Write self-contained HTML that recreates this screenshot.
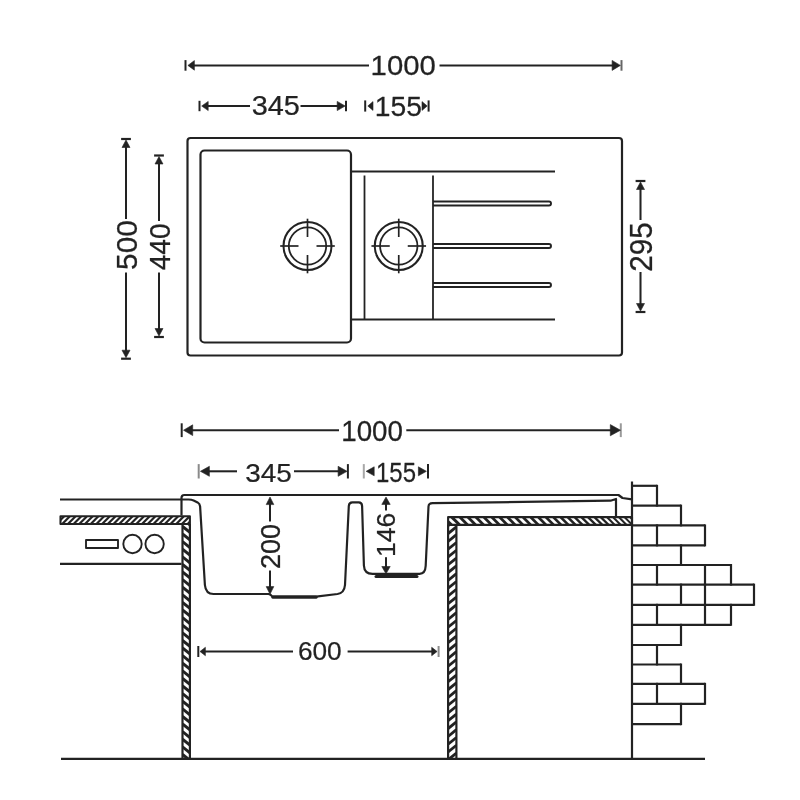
<!DOCTYPE html>
<html><head><meta charset="utf-8"><title>Sink dimensions</title>
<style>
html,body{margin:0;padding:0;background:#fff;}
body{width:800px;height:800px;overflow:hidden;font-family:"Liberation Sans",sans-serif;}
svg{display:block}
svg text{font-family:"Liberation Sans",sans-serif;}
</style></head>
<body>
<svg width="800" height="800" viewBox="0 0 800 800" fill="none" stroke="#242424" stroke-linecap="butt" stroke-linejoin="round">
<defs><filter id="soft" x="0" y="0" width="800" height="800" filterUnits="userSpaceOnUse"><feGaussianBlur stdDeviation="0.5"/></filter></defs>
<g filter="url(#soft)">
<rect x="0" y="0" width="800" height="800" fill="#ffffff" stroke="none"/>
<rect x="187.5" y="138" width="434.5" height="217.5" rx="3" stroke-width="2.2"/>
<rect x="200.5" y="150.5" width="150.5" height="192" rx="4" stroke-width="2.2"/>
<line x1="351" y1="171.5" x2="555" y2="171.5" stroke-width="1.8" />
<line x1="351" y1="319.5" x2="555" y2="319.5" stroke-width="1.8" />
<line x1="364.5" y1="175.5" x2="364.5" y2="319" stroke-width="1.8" />
<line x1="433" y1="175.5" x2="433" y2="319" stroke-width="1.8" />
<path d="M433,201.4 H549 a2.0,2.0 0 0 1 0,4.0 H433" stroke-width="1.95" />
<path d="M433,244.0 H549 a2.0,2.0 0 0 1 0,4.0 H433" stroke-width="1.95" />
<path d="M433,283.0 H549 a2.0,2.0 0 0 1 0,4.0 H433" stroke-width="1.95" />
<circle cx="307.5" cy="246" r="24" stroke-width="2.1"/>
<circle cx="307.5" cy="246" r="18.7" stroke-width="1.8"/>
<line x1="316.5" y1="246" x2="334.8" y2="246.0" stroke-width="1.7" />
<line x1="298.5" y1="246" x2="280.2" y2="246.0" stroke-width="1.7" />
<line x1="307.5" y1="255" x2="307.5" y2="273.3" stroke-width="1.7" />
<line x1="307.5" y1="237" x2="307.5" y2="218.7" stroke-width="1.7" />
<circle cx="398.75" cy="246" r="24" stroke-width="2.1"/>
<circle cx="398.75" cy="246" r="18.7" stroke-width="1.8"/>
<line x1="407.75" y1="246" x2="426.05" y2="246.0" stroke-width="1.7" />
<line x1="389.75" y1="246" x2="371.45" y2="246.0" stroke-width="1.7" />
<line x1="398.75" y1="255" x2="398.75" y2="273.3" stroke-width="1.7" />
<line x1="398.75" y1="237" x2="398.75" y2="218.7" stroke-width="1.7" />
<line x1="185.5" y1="60.10000000000001" x2="185.5" y2="70.7" stroke-width="2.0" stroke="#242424"/>
<line x1="621.5" y1="60.10000000000001" x2="621.5" y2="70.7" stroke-width="2.0" stroke="#666666"/>
<polygon points="187.90,65.40 194.40,60.60 194.40,70.20" fill="#242424" stroke="#242424" stroke-width="0.6"/>
<polygon points="620.40,65.40 612.10,70.40 612.10,60.40" fill="#242424" stroke="#242424" stroke-width="0.6"/>
<line x1="193.4" y1="65.4" x2="369" y2="65.4" stroke-width="2.05" />
<line x1="439.5" y1="65.4" x2="613.1" y2="65.4" stroke-width="2.05" />
<text x="0" y="0" font-size="28.0" fill="#242424" stroke="#242424" stroke-width="0.25" transform="translate(370.60 75.42) scale(1.0477 1.0045)">1000</text>
<line x1="199.5" y1="100.8" x2="199.5" y2="111.2" stroke-width="2.0" stroke="#242424"/>
<line x1="346" y1="100.8" x2="346" y2="111.2" stroke-width="2.0" stroke="#242424"/>
<polygon points="201.70,106.00 208.20,101.40 208.20,110.60" fill="#242424" stroke="#242424" stroke-width="0.6"/>
<polygon points="345.20,106.00 337.20,110.60 337.20,101.40" fill="#242424" stroke="#242424" stroke-width="0.6"/>
<line x1="207.2" y1="106" x2="250" y2="106" stroke-width="2.05" />
<line x1="300.5" y1="106" x2="338.2" y2="106" stroke-width="2.05" />
<text x="0" y="0" font-size="28.0" fill="#242424" stroke="#242424" stroke-width="0.25" transform="translate(251.72 115.43) scale(1.0310 0.9793)">345</text>
<line x1="365.2" y1="100.4" x2="365.2" y2="111.6" stroke-width="2.0" stroke="#242424"/>
<line x1="428.6" y1="100.4" x2="428.6" y2="111.6" stroke-width="2.0" stroke="#242424"/>
<polygon points="367.80,106.00 373.00,101.60 373.00,110.40" fill="#242424" stroke="#242424" stroke-width="0.6"/>
<polygon points="427.20,106.00 422.00,110.40 422.00,101.60" fill="#242424" stroke="#242424" stroke-width="0.6"/>
<text x="0" y="0" font-size="28.0" fill="#242424" stroke="#242424" stroke-width="0.25" transform="translate(374.68 115.62) scale(1.0099 1.0138)">155</text>
<line x1="121.1" y1="139" x2="130.9" y2="139" stroke-width="2.2" />
<line x1="121.1" y1="358.7" x2="130.9" y2="358.7" stroke-width="2.2" />
<polygon points="126.00,140.00 130.00,147.50 122.00,147.50" fill="#242424" stroke="#242424" stroke-width="0.6"/>
<polygon points="126.00,357.70 122.00,350.20 130.00,350.20" fill="#242424" stroke="#242424" stroke-width="0.6"/>
<line x1="126" y1="146.5" x2="126" y2="219" stroke-width="2.05" />
<line x1="126" y1="272.5" x2="126" y2="351.2" stroke-width="2.05" />
<text x="0" y="0" font-size="28.0" fill="#242424" stroke="#242424" stroke-width="0.25" transform="translate(136.90 269.89) rotate(-90) scale(1.0647 1.0803)">500</text>
<line x1="154.1" y1="155.5" x2="163.9" y2="155.5" stroke-width="2.2" />
<line x1="154.1" y1="337" x2="163.9" y2="337" stroke-width="2.2" />
<polygon points="159.00,156.50 163.00,164.00 155.00,164.00" fill="#242424" stroke="#242424" stroke-width="0.6"/>
<polygon points="159.00,336.00 155.00,328.50 163.00,328.50" fill="#242424" stroke="#242424" stroke-width="0.6"/>
<line x1="159" y1="163.0" x2="159" y2="221" stroke-width="2.05" />
<line x1="159" y1="272.5" x2="159" y2="329.5" stroke-width="2.05" />
<text x="0" y="0" font-size="28.0" fill="#242424" stroke="#242424" stroke-width="0.25" transform="translate(170.40 270.34) rotate(-90) scale(1.0087 1.0803)">440</text>
<line x1="635.6" y1="181" x2="645.4" y2="181" stroke-width="2.2" />
<line x1="635.6" y1="312" x2="645.4" y2="312" stroke-width="2.2" />
<polygon points="640.50,182.00 644.50,189.50 636.50,189.50" fill="#242424" stroke="#242424" stroke-width="0.6"/>
<polygon points="640.50,311.00 636.50,303.50 644.50,303.50" fill="#242424" stroke="#242424" stroke-width="0.6"/>
<line x1="640.5" y1="188.5" x2="640.5" y2="220" stroke-width="2.05" />
<line x1="640.5" y1="272" x2="640.5" y2="304.5" stroke-width="2.05" />
<text x="0" y="0" font-size="28.0" fill="#242424" stroke="#242424" stroke-width="0.25" transform="translate(651.79 271.69) rotate(-90) scale(1.0618 1.1206)">295</text>
<line x1="60" y1="499.5" x2="181.5" y2="499.5" stroke-width="2.2" />
<line x1="60" y1="563.8" x2="181.5" y2="563.8" stroke-width="2.2" />
<rect x="86" y="540" width="32" height="8" stroke-width="1.9"/>
<circle cx="132.5" cy="544" r="9.2" stroke-width="1.9"/>
<circle cx="154.6" cy="544" r="9.2" stroke-width="1.9"/>
<clipPath id="c1"><rect x="60.5" y="516.3" width="129.4" height="7.7"/></clipPath>
<g clip-path="url(#c1)">
<line x1="45.1" y1="524.0" x2="52.8" y2="516.3" stroke-width="2.2" />
<line x1="50.8" y1="524.0" x2="58.5" y2="516.3" stroke-width="2.2" />
<line x1="56.5" y1="524.0" x2="64.2" y2="516.3" stroke-width="2.2" />
<line x1="62.2" y1="524.0" x2="69.9" y2="516.3" stroke-width="2.2" />
<line x1="67.9" y1="524.0" x2="75.6" y2="516.3" stroke-width="2.2" />
<line x1="73.6" y1="524.0" x2="81.3" y2="516.3" stroke-width="2.2" />
<line x1="79.3" y1="524.0" x2="87.0" y2="516.3" stroke-width="2.2" />
<line x1="85.0" y1="524.0" x2="92.7" y2="516.3" stroke-width="2.2" />
<line x1="90.7" y1="524.0" x2="98.4" y2="516.3" stroke-width="2.2" />
<line x1="96.4" y1="524.0" x2="104.1" y2="516.3" stroke-width="2.2" />
<line x1="102.1" y1="524.0" x2="109.8" y2="516.3" stroke-width="2.2" />
<line x1="107.8" y1="524.0" x2="115.5" y2="516.3" stroke-width="2.2" />
<line x1="113.5" y1="524.0" x2="121.2" y2="516.3" stroke-width="2.2" />
<line x1="119.2" y1="524.0" x2="126.9" y2="516.3" stroke-width="2.2" />
<line x1="124.9" y1="524.0" x2="132.6" y2="516.3" stroke-width="2.2" />
<line x1="130.6" y1="524.0" x2="138.3" y2="516.3" stroke-width="2.2" />
<line x1="136.3" y1="524.0" x2="144.0" y2="516.3" stroke-width="2.2" />
<line x1="142.0" y1="524.0" x2="149.7" y2="516.3" stroke-width="2.2" />
<line x1="147.7" y1="524.0" x2="155.4" y2="516.3" stroke-width="2.2" />
<line x1="153.4" y1="524.0" x2="161.1" y2="516.3" stroke-width="2.2" />
<line x1="159.1" y1="524.0" x2="166.8" y2="516.3" stroke-width="2.2" />
<line x1="164.8" y1="524.0" x2="172.5" y2="516.3" stroke-width="2.2" />
<line x1="170.5" y1="524.0" x2="178.2" y2="516.3" stroke-width="2.2" />
<line x1="176.2" y1="524.0" x2="183.9" y2="516.3" stroke-width="2.2" />
<line x1="181.9" y1="524.0" x2="189.6" y2="516.3" stroke-width="2.2" />
<line x1="187.6" y1="524.0" x2="195.3" y2="516.3" stroke-width="2.2" />
<line x1="193.3" y1="524.0" x2="201.0" y2="516.3" stroke-width="2.2" />
</g>
<rect x="60.5" y="516.3" width="129.4" height="7.7" stroke-width="2.1"/>
<clipPath id="c2"><rect x="182.5" y="524" width="7.4" height="234.8"/></clipPath>
<g clip-path="url(#c2)">
<line x1="182.5" y1="511.2" x2="189.9" y2="517.12" stroke-width="3.0" />
<line x1="182.5" y1="518.8" x2="189.9" y2="524.72" stroke-width="3.0" />
<line x1="182.5" y1="526.4" x2="189.9" y2="532.32" stroke-width="3.0" />
<line x1="182.5" y1="534.0" x2="189.9" y2="539.92" stroke-width="3.0" />
<line x1="182.5" y1="541.6" x2="189.9" y2="547.52" stroke-width="3.0" />
<line x1="182.5" y1="549.2" x2="189.9" y2="555.12" stroke-width="3.0" />
<line x1="182.5" y1="556.8" x2="189.9" y2="562.72" stroke-width="3.0" />
<line x1="182.5" y1="564.4" x2="189.9" y2="570.32" stroke-width="3.0" />
<line x1="182.5" y1="572.0" x2="189.9" y2="577.92" stroke-width="3.0" />
<line x1="182.5" y1="579.6" x2="189.9" y2="585.52" stroke-width="3.0" />
<line x1="182.5" y1="587.2" x2="189.9" y2="593.12" stroke-width="3.0" />
<line x1="182.5" y1="594.8" x2="189.9" y2="600.72" stroke-width="3.0" />
<line x1="182.5" y1="602.4" x2="189.9" y2="608.32" stroke-width="3.0" />
<line x1="182.5" y1="610.0" x2="189.9" y2="615.92" stroke-width="3.0" />
<line x1="182.5" y1="617.6" x2="189.9" y2="623.52" stroke-width="3.0" />
<line x1="182.5" y1="625.2" x2="189.9" y2="631.12" stroke-width="3.0" />
<line x1="182.5" y1="632.8" x2="189.9" y2="638.72" stroke-width="3.0" />
<line x1="182.5" y1="640.4" x2="189.9" y2="646.32" stroke-width="3.0" />
<line x1="182.5" y1="648.0" x2="189.9" y2="653.92" stroke-width="3.0" />
<line x1="182.5" y1="655.6" x2="189.9" y2="661.52" stroke-width="3.0" />
<line x1="182.5" y1="663.2" x2="189.9" y2="669.12" stroke-width="3.0" />
<line x1="182.5" y1="670.8" x2="189.9" y2="676.72" stroke-width="3.0" />
<line x1="182.5" y1="678.4" x2="189.9" y2="684.32" stroke-width="3.0" />
<line x1="182.5" y1="686.0" x2="189.9" y2="691.92" stroke-width="3.0" />
<line x1="182.5" y1="693.6" x2="189.9" y2="699.52" stroke-width="3.0" />
<line x1="182.5" y1="701.2" x2="189.9" y2="707.12" stroke-width="3.0" />
<line x1="182.5" y1="708.8" x2="189.9" y2="714.72" stroke-width="3.0" />
<line x1="182.5" y1="716.4" x2="189.9" y2="722.32" stroke-width="3.0" />
<line x1="182.5" y1="724.0" x2="189.9" y2="729.92" stroke-width="3.0" />
<line x1="182.5" y1="731.6" x2="189.9" y2="737.52" stroke-width="3.0" />
<line x1="182.5" y1="739.2" x2="189.9" y2="745.12" stroke-width="3.0" />
<line x1="182.5" y1="746.8" x2="189.9" y2="752.72" stroke-width="3.0" />
<line x1="182.5" y1="754.4" x2="189.9" y2="760.32" stroke-width="3.0" />
<line x1="182.5" y1="762.0" x2="189.9" y2="767.92" stroke-width="3.0" />
</g>
<line x1="182.5" y1="524" x2="182.5" y2="758.8" stroke-width="2.2" />
<line x1="189.9" y1="524" x2="189.9" y2="758.8" stroke-width="2.2" />
<clipPath id="c3"><rect x="448.1" y="517.1" width="183.9" height="7.8"/></clipPath>
<g clip-path="url(#c3)">
<line x1="435.5" y1="517.1" x2="443.3" y2="524.9" stroke-width="2.94" />
<line x1="443.66" y1="517.1" x2="451.46" y2="524.9" stroke-width="2.92" />
<line x1="451.78" y1="517.1" x2="459.58" y2="524.9" stroke-width="2.91" />
<line x1="459.85" y1="517.1" x2="467.65" y2="524.9" stroke-width="2.89" />
<line x1="467.88" y1="517.1" x2="475.68" y2="524.9" stroke-width="2.88" />
<line x1="475.87" y1="517.1" x2="483.67" y2="524.9" stroke-width="2.86" />
<line x1="483.82" y1="517.1" x2="491.62" y2="524.9" stroke-width="2.84" />
<line x1="491.72" y1="517.1" x2="499.52" y2="524.9" stroke-width="2.83" />
<line x1="499.58" y1="517.1" x2="507.38" y2="524.9" stroke-width="2.81" />
<line x1="507.4" y1="517.1" x2="515.2" y2="524.9" stroke-width="2.8" />
<line x1="515.17" y1="517.1" x2="522.97" y2="524.9" stroke-width="2.78" />
<line x1="522.91" y1="517.1" x2="530.71" y2="524.9" stroke-width="2.77" />
<line x1="530.6" y1="517.1" x2="538.4" y2="524.9" stroke-width="2.75" />
<line x1="538.25" y1="517.1" x2="546.05" y2="524.9" stroke-width="2.74" />
<line x1="545.86" y1="517.1" x2="553.66" y2="524.9" stroke-width="2.69" />
<line x1="553.32" y1="517.1" x2="561.12" y2="524.9" stroke-width="2.62" />
<line x1="560.6" y1="517.1" x2="568.4" y2="524.9" stroke-width="2.56" />
<line x1="567.71" y1="517.1" x2="575.51" y2="524.9" stroke-width="2.5" />
<line x1="574.64" y1="517.1" x2="582.44" y2="524.9" stroke-width="2.44" />
<line x1="581.42" y1="517.1" x2="589.22" y2="524.9" stroke-width="2.38" />
<line x1="588.02" y1="517.1" x2="595.82" y2="524.9" stroke-width="2.32" />
<line x1="594.48" y1="517.1" x2="602.28" y2="524.9" stroke-width="2.27" />
<line x1="600.77" y1="517.1" x2="608.57" y2="524.9" stroke-width="2.21" />
<line x1="606.92" y1="517.1" x2="614.72" y2="524.9" stroke-width="2.16" />
<line x1="612.92" y1="517.1" x2="620.72" y2="524.9" stroke-width="2.11" />
<line x1="618.78" y1="517.1" x2="626.58" y2="524.9" stroke-width="2.06" />
<line x1="624.49" y1="517.1" x2="632.29" y2="524.9" stroke-width="2.01" />
<line x1="630.07" y1="517.1" x2="637.87" y2="524.9" stroke-width="1.96" />
<line x1="635.52" y1="517.1" x2="643.32" y2="524.9" stroke-width="1.94" />
</g>
<rect x="448.1" y="517.1" width="183.9" height="7.8" stroke-width="2.1"/>
<clipPath id="c4"><rect x="448.1" y="524.9" width="8.3" height="233.9"/></clipPath>
<g clip-path="url(#c4)">
<line x1="448.1" y1="517.94" x2="456.40000000000003" y2="511.3" stroke-width="2.8" />
<line x1="448.1" y1="525.74" x2="456.40000000000003" y2="519.1" stroke-width="2.8" />
<line x1="448.1" y1="533.54" x2="456.40000000000003" y2="526.9" stroke-width="2.8" />
<line x1="448.1" y1="541.34" x2="456.40000000000003" y2="534.7" stroke-width="2.8" />
<line x1="448.1" y1="549.14" x2="456.40000000000003" y2="542.5" stroke-width="2.8" />
<line x1="448.1" y1="556.94" x2="456.40000000000003" y2="550.3" stroke-width="2.8" />
<line x1="448.1" y1="564.74" x2="456.40000000000003" y2="558.1" stroke-width="2.8" />
<line x1="448.1" y1="572.54" x2="456.40000000000003" y2="565.9" stroke-width="2.8" />
<line x1="448.1" y1="580.34" x2="456.40000000000003" y2="573.7" stroke-width="2.8" />
<line x1="448.1" y1="588.14" x2="456.40000000000003" y2="581.5" stroke-width="2.8" />
<line x1="448.1" y1="595.94" x2="456.40000000000003" y2="589.3" stroke-width="2.8" />
<line x1="448.1" y1="603.74" x2="456.40000000000003" y2="597.1" stroke-width="2.8" />
<line x1="448.1" y1="611.54" x2="456.40000000000003" y2="604.9" stroke-width="2.8" />
<line x1="448.1" y1="619.34" x2="456.40000000000003" y2="612.7" stroke-width="2.8" />
<line x1="448.1" y1="627.14" x2="456.40000000000003" y2="620.5" stroke-width="2.8" />
<line x1="448.1" y1="634.94" x2="456.40000000000003" y2="628.3" stroke-width="2.8" />
<line x1="448.1" y1="642.74" x2="456.40000000000003" y2="636.1" stroke-width="2.8" />
<line x1="448.1" y1="650.54" x2="456.40000000000003" y2="643.9" stroke-width="2.8" />
<line x1="448.1" y1="658.34" x2="456.40000000000003" y2="651.7" stroke-width="2.8" />
<line x1="448.1" y1="666.14" x2="456.40000000000003" y2="659.5" stroke-width="2.8" />
<line x1="448.1" y1="673.94" x2="456.40000000000003" y2="667.3" stroke-width="2.8" />
<line x1="448.1" y1="681.74" x2="456.40000000000003" y2="675.1" stroke-width="2.8" />
<line x1="448.1" y1="689.54" x2="456.40000000000003" y2="682.9" stroke-width="2.8" />
<line x1="448.1" y1="697.34" x2="456.40000000000003" y2="690.7" stroke-width="2.8" />
<line x1="448.1" y1="705.14" x2="456.40000000000003" y2="698.5" stroke-width="2.8" />
<line x1="448.1" y1="712.94" x2="456.40000000000003" y2="706.3" stroke-width="2.8" />
<line x1="448.1" y1="720.74" x2="456.40000000000003" y2="714.1" stroke-width="2.8" />
<line x1="448.1" y1="728.54" x2="456.40000000000003" y2="721.9" stroke-width="2.8" />
<line x1="448.1" y1="736.34" x2="456.40000000000003" y2="729.7" stroke-width="2.8" />
<line x1="448.1" y1="744.14" x2="456.40000000000003" y2="737.5" stroke-width="2.8" />
<line x1="448.1" y1="751.94" x2="456.40000000000003" y2="745.3" stroke-width="2.8" />
<line x1="448.1" y1="759.74" x2="456.40000000000003" y2="753.1" stroke-width="2.8" />
<line x1="448.1" y1="767.54" x2="456.40000000000003" y2="760.9" stroke-width="2.8" />
</g>
<line x1="448.1" y1="524.9" x2="448.1" y2="758.8" stroke-width="2.2" />
<line x1="456.40000000000003" y1="524.9" x2="456.40000000000003" y2="758.8" stroke-width="2.2" />
<line x1="61" y1="758.8" x2="705" y2="758.8" stroke-width="2.2" />
<path d="M181.5,515.6 V497.8 Q181.5,495 184.3,495 H618.5 L622.5,498 L632,499.4" stroke-width="2.2" />
<path d="M181.5,499.5 H188.6 Q191.6,499.6 193.6,500.4 L197.6,502.4 Q199.8,503.6 200.1,506.4 L204.9,585 Q205.7,594 213.5,594 H268.5 Q270.5,594.2 272.5,596.6 H316 L337.5,594 Q344.3,593 345,585 L348.8,506 Q349.1,502.4 352.3,502.4 H358.8 Q361.9,502.4 362.1,506 L363.9,565.5 Q364.3,573.9 372.5,573.9 H419.5 Q425.3,573.9 425.7,565.8 L428.5,506.5 Q428.7,503.2 432.5,503.1 L610.5,500.7 L616,499 V516.8" stroke-width="2.2" />
<line x1="273" y1="597.2" x2="316" y2="597.2" stroke-width="3.2" stroke-linecap="round"/>
<line x1="376" y1="576.5" x2="417" y2="576.5" stroke-width="3.0" stroke-linecap="round"/>
<line x1="181.7" y1="423.3" x2="181.7" y2="437.09999999999997" stroke-width="2.0" stroke="#242424"/>
<line x1="620.8" y1="423.3" x2="620.8" y2="437.09999999999997" stroke-width="2.0" stroke="#9a9a9a"/>
<polygon points="183.50,430.20 192.70,424.80 192.70,435.60" fill="#242424" stroke="#242424" stroke-width="0.6"/>
<polygon points="620.50,430.20 610.30,435.80 610.30,424.60" fill="#242424" stroke="#242424" stroke-width="0.6"/>
<line x1="191.7" y1="430.2" x2="339" y2="430.2" stroke-width="2.05" />
<line x1="406.3" y1="430.2" x2="611.3" y2="430.2" stroke-width="2.05" />
<text x="0" y="0" font-size="28.0" fill="#242424" stroke="#242424" stroke-width="0.25" transform="translate(341.22 441.21) scale(0.9919 1.0449)">1000</text>
<line x1="198.7" y1="464.1" x2="198.7" y2="478.5" stroke-width="2.0" stroke="#8a8a8a"/>
<line x1="347.9" y1="464.1" x2="347.9" y2="478.5" stroke-width="2.0" stroke="#242424"/>
<polygon points="200.40,471.30 209.40,466.30 209.40,476.30" fill="#242424" stroke="#242424" stroke-width="0.6"/>
<polygon points="347.10,471.30 338.10,476.30 338.10,466.30" fill="#242424" stroke="#242424" stroke-width="0.6"/>
<line x1="208.39999999999998" y1="471.3" x2="237" y2="471.3" stroke-width="2.05" />
<line x1="294" y1="471.3" x2="339.09999999999997" y2="471.3" stroke-width="2.05" />
<text x="0" y="0" font-size="28.0" fill="#242424" stroke="#242424" stroke-width="0.25" transform="translate(245.25 482.44) scale(0.9973 0.9288)">345</text>
<line x1="363.8" y1="464.1" x2="363.8" y2="478.5" stroke-width="2.0" stroke="#a8a8a8"/>
<line x1="428" y1="464.1" x2="428" y2="478.5" stroke-width="2.0" stroke="#242424"/>
<polygon points="366.20,471.30 374.20,466.80 374.20,475.80" fill="#242424" stroke="#242424" stroke-width="0.6"/>
<polygon points="426.40,471.30 418.40,475.80 418.40,466.80" fill="#242424" stroke="#242424" stroke-width="0.6"/>
<text x="0" y="0" font-size="28.0" fill="#242424" stroke="#242424" stroke-width="0.25" transform="translate(376.00 481.82) scale(0.8558 1.0036)">155</text>
<polygon points="270.00,497.00 273.80,504.60 266.20,504.60" fill="#242424" stroke="#242424" stroke-width="0.6"/>
<polygon points="270.00,594.20 266.20,586.60 273.80,586.60" fill="#242424" stroke="#242424" stroke-width="0.6"/>
<line x1="270" y1="503.6" x2="270" y2="521.5" stroke-width="2.05" />
<line x1="270" y1="570.5" x2="270" y2="587.6" stroke-width="2.05" />
<text x="0" y="0" font-size="28.0" fill="#242424" stroke="#242424" stroke-width="0.25" transform="translate(280.23 569.05) rotate(-90) scale(0.9675 0.9591)">200</text>
<polygon points="386.00,497.10 390.20,504.40 381.80,504.40" fill="#242424" stroke="#242424" stroke-width="0.6"/>
<polygon points="386.00,573.80 381.80,566.50 390.20,566.50" fill="#242424" stroke="#242424" stroke-width="0.6"/>
<line x1="386" y1="503.40000000000003" x2="386" y2="510.5" stroke-width="2.05" />
<line x1="386" y1="557.2" x2="386" y2="567.5" stroke-width="2.05" />
<text x="0" y="0" font-size="28.0" fill="#242424" stroke="#242424" stroke-width="0.25" transform="translate(395.45 556.98) rotate(-90) scale(0.9447 0.9086)">146</text>
<line x1="198.3" y1="646.0" x2="198.3" y2="657.0" stroke-width="2.0" stroke="#242424"/>
<line x1="438.6" y1="646.0" x2="438.6" y2="657.0" stroke-width="2.0" stroke="#8c8c8c"/>
<polygon points="200.00,651.50 205.40,647.30 205.40,655.70" fill="#242424" stroke="#242424" stroke-width="0.6"/>
<polygon points="437.10,651.50 431.70,655.70 431.70,647.30" fill="#242424" stroke="#242424" stroke-width="0.6"/>
<line x1="204.4" y1="651.5" x2="293" y2="651.5" stroke-width="2.05" />
<line x1="347.6" y1="651.5" x2="432.70000000000005" y2="651.5" stroke-width="2.05" />
<text x="0" y="0" font-size="28.0" fill="#242424" stroke="#242424" stroke-width="0.25" transform="translate(297.89 660.45) scale(0.9381 0.9086)">600</text>
<line x1="632" y1="481.5" x2="632" y2="758.8" stroke-width="2.2" />
<line x1="632" y1="485.8" x2="657" y2="485.8" stroke-width="2.2" />
<line x1="632" y1="505.6" x2="681" y2="505.6" stroke-width="2.2" />
<line x1="632" y1="525.4" x2="705" y2="525.4" stroke-width="2.2" />
<line x1="632" y1="545.4" x2="705" y2="545.4" stroke-width="2.2" />
<line x1="632" y1="565" x2="731" y2="565" stroke-width="2.2" />
<line x1="632" y1="584.6" x2="754" y2="584.6" stroke-width="2.2" />
<line x1="632" y1="604.8" x2="754" y2="604.8" stroke-width="2.2" />
<line x1="632" y1="624.8" x2="731" y2="624.8" stroke-width="2.2" />
<line x1="632" y1="645" x2="681" y2="645" stroke-width="2.2" />
<line x1="632" y1="664.5" x2="681" y2="664.5" stroke-width="2.2" />
<line x1="632" y1="683.8" x2="705" y2="683.8" stroke-width="2.2" />
<line x1="632" y1="703.8" x2="705" y2="703.8" stroke-width="2.2" />
<line x1="632" y1="724.2" x2="681" y2="724.2" stroke-width="2.2" />
<line x1="657" y1="484.8" x2="657" y2="506.6" stroke-width="2.2" />
<line x1="681" y1="504.6" x2="681" y2="526.4" stroke-width="2.2" />
<line x1="657" y1="524.4" x2="657" y2="546.4" stroke-width="2.2" />
<line x1="705" y1="524.4" x2="705" y2="546.4" stroke-width="2.2" />
<line x1="681" y1="544.4" x2="681" y2="566" stroke-width="2.2" />
<line x1="657" y1="564" x2="657" y2="585.6" stroke-width="2.2" />
<line x1="705" y1="564" x2="705" y2="585.6" stroke-width="2.2" />
<line x1="731" y1="564" x2="731" y2="585.6" stroke-width="2.2" />
<line x1="681" y1="583.6" x2="681" y2="605.8" stroke-width="2.2" />
<line x1="705" y1="583.6" x2="705" y2="605.8" stroke-width="2.2" />
<line x1="754" y1="583.6" x2="754" y2="605.8" stroke-width="2.2" />
<line x1="657" y1="603.8" x2="657" y2="625.8" stroke-width="2.2" />
<line x1="705" y1="603.8" x2="705" y2="625.8" stroke-width="2.2" />
<line x1="731" y1="603.8" x2="731" y2="625.8" stroke-width="2.2" />
<line x1="681" y1="623.8" x2="681" y2="646" stroke-width="2.2" />
<line x1="657" y1="644" x2="657" y2="665.5" stroke-width="2.2" />
<line x1="681" y1="663.5" x2="681" y2="684.8" stroke-width="2.2" />
<line x1="657" y1="682.8" x2="657" y2="704.8" stroke-width="2.2" />
<line x1="705" y1="682.8" x2="705" y2="704.8" stroke-width="2.2" />
<line x1="681" y1="702.8" x2="681" y2="725.2" stroke-width="2.2" />
</g>
</svg>
</body></html>
